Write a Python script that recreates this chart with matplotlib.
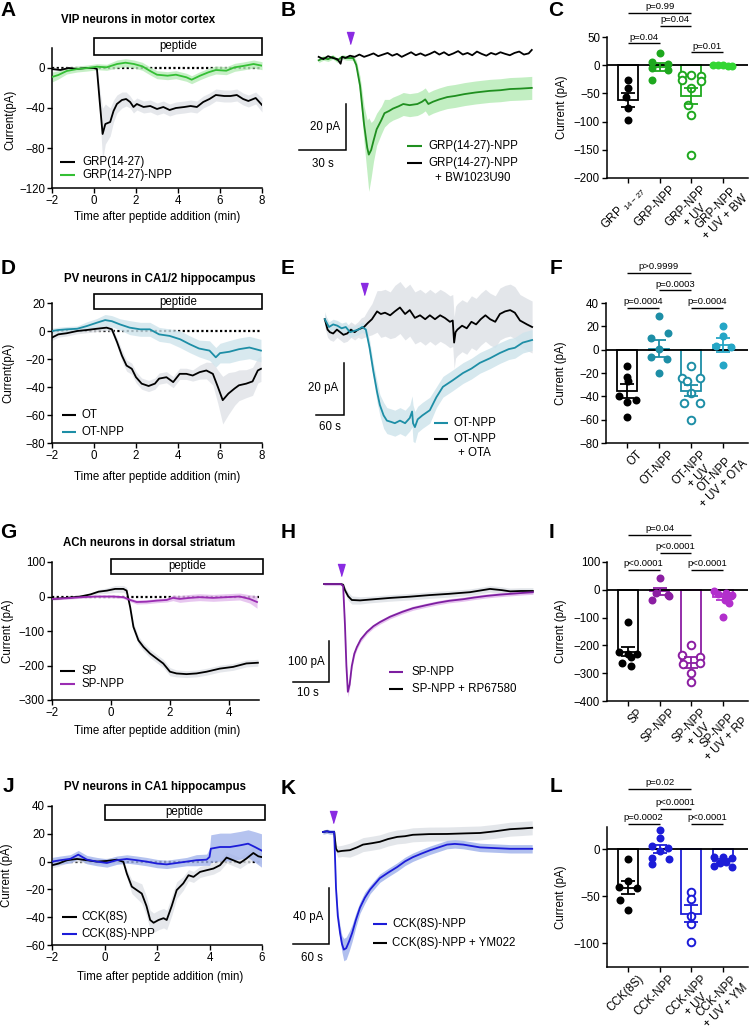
import numpy as np
import matplotlib
matplotlib.use('Agg')
import matplotlib.pyplot as plt
from matplotlib.patches import Rectangle
from matplotlib.lines import Line2D

# ======================= DATA =======================
# Panel A  (time min, current pA, sem)
A_GRP = [(-2.0,-1,1.5),(-1.6,-2,1.5),(-1.2,0,1.5),(-0.8,-1,1.5),(-0.4,0,1.5),(0.0,0,1.5),
         (0.14,-1,3),(0.27,-33,12),(0.41,-66,26),(0.54,-56,20),(0.77,-54,14),(0.93,-43,11),
         (1.09,-36,9),(1.33,-32,8),(1.53,-31,7),(1.72,-34,6),(1.88,-39,6),(2.04,-36,6),
         (2.36,-39,6),(2.68,-38,6),(3.0,-41,6),(3.3,-39,6),(3.6,-42,6),(3.9,-40,6),
         (4.3,-39,6),(4.6,-38,6),(4.9,-39,6),(5.2,-34,6),(5.5,-31,6),(5.8,-27,6),
         (6.2,-28,6),(6.5,-28,6),(6.8,-27,6),(7.1,-31,6),(7.35,-33,6),(7.7,-30,6),(8.0,-37,7)]
A_NPP = [(-2.0,-9,5),(-1.7,-7,4),(-1.3,-3,3),(-0.8,-1,3),(-0.3,0,3),(0.14,1.3,3),(0.6,0.7,3),
         (1.1,4,4),(1.5,5.3,4),(1.9,4,4),(2.3,1.7,4),(2.7,-3.3,4),(3.0,-6.7,4),(3.5,-7.7,4),
         (3.9,-6.7,4),(4.4,-9.3,4),(4.65,-11.7,4),(5.05,-7.7,4),(5.45,-4.3,4),(5.8,-2,4),
         (6.3,-2.7,4),(6.7,0.7,4),(7.1,2,4),(7.6,4,4),(8.0,2.3,4)]

# Panel B  (time s, current pA, sem)
B_NPP = [(-20,-1,1),(-17,0,1),(-14,-0.5,1),(-11,0.5,1),(-8,-1,1),(-5,0.5,1),(-2,0,1),(0,0,1),
         (2,0,1),(4,-3,2),(6.4,-12,4),(9,-29,8),(11,-39,12),(12,-42,16),(13.5,-40,12),
         (15,-36,9),(17,-31,7),(20,-27,6),(22,-24,6),(25,-23,5),(27.4,-22,5),(31,-21,5),
         (34,-20,5),(38,-20.5,5),(43,-20,5),(46,-19,5),(48,-18,5),(50,-20,5),(53,-19,5),
         (57,-18,5),(62,-17,5),(67,-16.5,5),(73,-15.7,5),(80,-15,5),(89,-14.3,5),(96,-14,5),
         (102,-13.5,5),(109,-13.3,5),(116,-13,5)]
B_BW = [(-20,0.5),(-17,-0.5),(-14,0.8),(-11,0),(-8,-0.5),(-6,-2.5),(-5,0.5),(-3,0),(0,1),
        (3,0.5),(6,1.5),(9,0.5),(12,1.2),(15,2),(18,0.8),(21,1.5),(24,2.2),(27,1),(30,1.8),
        (33,0.5),(36,1.5),(39,2.5),(42,1.2),(45,2),(48,1),(51,1.8),(54,2.8),(57,1.5),(60,2.5),
        (63,1.2),(66,2),(69,3),(72,1.5),(75,2.2),(78,1.2),(81,2.8),(84,1.8),(87,1),(90,2.2),
        (93,1.5),(96,2.5),(99,1.8),(102,1.2),(105,2.2),(108,2.8),(111,1.5),(114,2),(116,3.5)]

# Panel C
C_LABELS = ['GRP $_{\\mathregular{14-27}}$', 'GRP-NPP', 'GRP-NPP\n+ UV', 'GRP-NPP\n+ UV + BW']
C_MEANS = [-62, -3, -55, -1]
C_SEMS = [12, 7, 14, 1]
C_POINTS = [[-27, -41, -56, -76, -97], [21, 6, 2, -5, -8, -26],
            [-18, -18, -20, -26, -28, -40, -70, -88, -159], [0, 0, 0, -1, -1]]
C_SIGS = [(0, 1, 39, 'p=0.04'), (2, 3, 23, 'p=0.01'), (1, 2, 70, 'p=0.04'), (0, 2, 93, 'p=0.99')]

# Panel D
D_OT = [(-2.0,-4.7,2),(-1.7,-2.4,2),(-1.3,-1.6,2),(-0.8,0,2),(-0.35,0.7,2),(0.13,1.6,2),
        (0.6,2.4,2),(0.85,1.2,2),(1.1,-8,3),(1.33,-17.6,4),(1.55,-24.7,4),(1.8,-27,4),
        (2.0,-33,4),(2.27,-37.6,4),(2.6,-39.3,4),(2.9,-37.6,4),(3.1,-34,4),(3.45,-33,4),
        (3.77,-36.5,4),(4.08,-30.6,4),(4.4,-30.6,4),(4.7,-31.8,4),(5.03,-29.4,5),(5.35,-28.2,6),
        (5.66,-30.6,8),(5.9,-40,12),(6.13,-49.4,17),(6.4,-44.7,15),(6.7,-41,12),(6.9,-38.8,11),
        (7.25,-37.6,10),(7.55,-36,10),(7.8,-28.2,9),(7.95,-27,9)]
D_NPP = [(-2.0,0,2),(-1.7,0.7,2),(-1.3,1.2,2),(-0.8,1.6,2),(-0.35,3.5,3),(0.13,5.9,3),
         (0.53,7.8,4),(0.85,7,4),(1.24,4.7,4),(1.7,2.4,5),(2.2,1.2,5),(2.66,1.2,5),
         (3.1,-2.4,5),(3.6,-3.5,5),(4.1,-5.9,6),(4.55,-9.4,6),(5.0,-12.5,6),(5.5,-14,7),
         (5.8,-18.8,7),(6.0,-15.8,7),(6.45,-14.8,8),(6.9,-13,8),(7.4,-11.8,8),(7.7,-13,8),(7.95,-14,8)]

# Panel E  (time s, current pA, sem)
E_NPP = [(-84,3,2),(-75,0,2),(-66,1,2),(-57,0.5,2),(-48,-0.5,2),(-39,0,2),(-30,-2,2),
         (-21,-1.5,2),(-12,-1,2),(-4,0,2),(4,-1,2),(12,-8,3),(20,-17,3),(28,-25,4),(34,-30,4),
         (42,-34,5),(49,-36,5),(58,-36.5,5),(66,-37,5),(77,-36,5),(88,-37,5),(98,-35,5),
         (103,-32.5,6),(105,-37,7),(109,-38.5,6),(115,-35.5,5),(125,-34,5),(141,-32,5),
         (155,-27,4),(169,-23,4),(190,-20.5,4),(212,-17.7,4),(230,-16,4),(248,-13.8,4),
         (270,-12,4),(291,-10,4),(310,-8.5,4),(323,-8,4),(340,-6,4),(360,-5,4)]
E_OTA = [(-84,3,3),(-78,-1,3),(-73,-2,3),(-66,-2.5,3),(-58,-1,3),(-51,-2,3),(-44,-3,3),
         (-36,-2.5,3),(-28,-1,3),(-20,-2,3),(-13,-1,3),(-6,-0.5,4),(0,0,4),(8,1.5,5),(17,3,6),
         (28,6,8),(36,5,9),(45,5.5,9),(56,4.5,9),(66,6,10),(77,7.5,10),(88,5,10),(98,6.5,10),
         (109,3.5,10),(120,4.5,10),(131,3,10),(141,4.5,10),(152,3,10),(163,4.5,10),(173,3.5,10),
         (184,2,10),(190,2.5,10),(193,-6,10),(196,-2,10),(200,-1,10),(210,0.5,10),(220,-0.5,10),
         (230,2,10),(240,1,10),(250,3,10),(260,4.5,10),(270,3,10),(281,2,10),(291,5,10),
         (302,6,10),(313,6.5,10),(323,5.5,10),(334,2.5,10),(349,1,10),(360,0,10)]

# Panel F
F_LABELS = ['OT', 'OT-NPP', 'OT-NPP\n+ UV', 'OT-NPP\n+ UV + OTA']
F_MEANS = [-35, 1, -35, 4]
F_SEMS = [6, 7, 5, 6]
F_POINTS = [[-14, -23, -27, -40, -43, -45, -58], [29, 14, 10, 1, -6, -8, -20],
            [-14, -24, -24, -27, -37, -46, -46, -60], [20, 12, 3, 2, -13]]
F_SIGS = [(0, 1, 36, 'p=0.0004'), (2, 3, 36, 'p=0.0004'), (1, 2, 51, 'p=0.0003'), (0, 2, 66, 'p>0.9999')]

# Panel G  (time min, current pA, sem)
G_SP = [(-2,-7,3),(-1.5,-4,3),(-1.04,0,3),(-0.7,6,4),(-0.42,14,6),(-0.14,17,8),(0.14,22,10),
        (0.42,22,10),(0.53,17,10),(0.65,-31,10),(0.76,-88,12),(0.93,-127,12),(1.1,-146,12),
        (1.32,-165,12),(1.55,-180,12),(1.77,-194,12),(2.0,-218,12),(2.22,-223,10),(2.56,-225,10),
        (2.9,-223,10),(3.24,-218,10),(3.69,-209,10),(4.14,-204,10),(4.59,-194,10),(4.98,-192,10)]
G_NPP = [(-2,-7,3),(-1.5,-5,3),(-1.0,-2,3),(-0.5,0,3),(0.08,0,4),(0.42,-2,4),(0.65,-10,5),
         (0.87,-16,6),(1.2,-15,6),(1.55,-12,6),(1.89,-10,6),(2.1,-4,8),(2.33,-7,10),(2.67,-4,10),
         (3.0,-2,10),(3.46,-4,10),(3.9,-2,10),(4.36,0,10),(4.7,-7,12),(4.95,-16,18)]

# Panel H  (time s, current pA, sem)
H_NPP = [(-4.7,0,3),(-3,0,3),(-1.5,0,3),(0,0,3),(0.6,-5,4),(1.1,-100,8),(1.5,-200,10),
         (1.9,-263,12),(2.4,-245,10),(3.0,-200,8),(3.7,-170,7),(4.4,-154,6),(5.5,-135,6),
         (7.2,-117,5),(9,-103,5),(10.8,-93,5),(13.6,-80,5),(17,-68,5),(20,-59,5),(23.5,-52,5),
         (26.7,-46,5),(30,-41,5),(34,-37,5),(37,-33,5),(40.5,-29,5),(44,-26,5),(47,-24,5),
         (50,-22,5),(53.3,-20,5)]
H_RP = [(-4.7,0,4),(-2,0,4),(0,0,4),(0.6,-2,5),(1.1,-15,8),(2,-30,10),(3,-39,10),(5.3,-40,9),
        (8,-38,8),(13.6,-34,8),(19,-31,8),(24.7,-27,8),(30,-24,8),(35.8,-20,8),(41.4,-12,8),
        (44.7,-15,8),(47,-18,8),(50,-17,8),(53.3,-17,8)]

# Panel I
I_LABELS = ['SP', 'SP-NPP', 'SP-NPP\n+ UV', 'SP-NPP\n+ UV + RP']
I_MEANS = [-222, -5, -262, -25]
I_SEMS = [17, 12, 20, 11]
I_POINTS = [[-116, -225, -230, -232, -240, -265, -275], [43, -12, -20, -22, -36],
            [-197, -236, -240, -262, -268, -300, -330], [-3, -12, -15, -17, -24, -36, -48, -98]]
I_SIGS = [(0, 1, 72, 'p<0.0001'), (2, 3, 72, 'p<0.0001'), (1, 2, 133, 'p<0.0001'), (0, 2, 198, 'p=0.04')]

# Panel J  (time min, current pA, sem)
J_CCK = [(-2,-2.6,2),(-1.75,-1.4,2),(-1.43,1,2),(-1.05,1.9,2),(-0.67,1,2),(-0.29,0,2),(0.09,0.5,2),
         (0.47,1.4,2),(0.72,-0.2,2),(0.85,-8.6,3),(1.04,-18,5),(1.23,-20.5,6),(1.42,-23,7),
         (1.6,-32,7),(1.74,-42,7),(1.87,-44,7),(2.06,-42,7),(2.25,-40.7,7),(2.37,-42,7),
         (2.56,-32,7),(2.75,-20.5,6),(3.0,-15.7,5),(3.2,-9.8,4),(3.39,-11,4),(3.64,-7.4,4),
         (3.89,-6.2,4),(4.15,-5,4),(4.4,-2.6,4),(4.65,2.9,4),(4.9,1,4),(5.16,-1,4),(5.4,2.1,4),
         (5.67,6.2,5),(5.86,3.8,5),(5.98,3.3,5)]
J_NPP = [(-2,0,3),(-1.68,1,3),(-1.3,2,3),(-1.0,5,3),(-0.67,1.4,3),(-0.29,0,3),(0.09,-1,3),
         (0.47,1,3),(0.85,1.9,3),(1.23,1,3),(1.6,0,3),(2.0,-1.4,3),(2.37,-2,3),(2.75,-1,3),
         (3.13,0,3),(3.5,1,4),(3.89,1.4,4),(4.0,3.3,6),(4.05,9.3,10),(4.4,10.5,10),(4.78,10.5,10),
         (5.16,11.7,10),(5.47,12.9,10),(5.73,10.5,11),(5.98,8,12)]

# Panel K  (time s, current pA, sem)
K_NPP = [(-16.7,0,1.5),(-10,0.5,1.5),(-5,0,1.5),(0,0,1.5),(2,0,1.5),(5,-40,3),(8,-60,4),
         (11.7,-72,5),(15,-80,6),(18,-84,8),(22,-83,8),(27,-78,7),(32,-72,6),(38,-63,5),
         (45,-54,4),(53,-47,4),(62,-41,3),(70,-37,3),(78,-33,3),(92,-29,3),(107,-25,3),
         (120,-21,3),(133,-18,3),(147,-15.5,3),(162,-13,3),(176,-11,3),(190,-9,3),(203,-8.5,3),
         (217,-9,3),(231,-10,3),(245,-11,3),(270,-11.5,3),(295,-12,3),(315,-12,3),(332,-12,3)]
K_YM = [(-16.7,0,1.5),(-10,0.5,1.5),(-5,0,1.5),(0,0,1.5),(2,0,2),(5,-12,3),(8,-14,4),
        (15,-13.5,4),(28,-13,5),(40,-11,5),(50,-9,5),(65,-8,5),(78,-7,5),(92,-5,5),(107,-3.5,5),
        (120,-3,5),(133,-2,5),(160,-1.5,5),(190,-1.4,5),(220,-1,5),(245,-0.7,5),(270,0.5,5),
        (295,2,5),(315,2.5,5),(332,3,5)]

# Panel L
L_LABELS = ['CCK(8S)', 'CCK-NPP', 'CCK-NPP\n+ UV', 'CCK-NPP\n+ UV + YM']
L_MEANS = [-41, 0, -69, -13]
L_SEMS = [7, 4, 9, 2]
L_POINTS = [[-11, -34, -40, -41, -54, -65], [20, 12, 3, 1, -2, -10, -11, -16],
            [-46, -53, -71, -80, -99], [-8, -9, -10, -14, -15, -18, -19]]
L_SIGS = [(0, 1, 27, 'p=0.0002'), (2, 3, 27, 'p<0.0001'), (1, 2, 43, 'p<0.0001'), (0, 2, 64, 'p=0.02')]

# ======================= STYLE / LAYOUT =======================
plt.rcParams['font.family'] = ['Liberation Sans', 'DejaVu Sans']
plt.rcParams['mathtext.fontset'] = 'custom'
plt.rcParams['mathtext.rm'] = 'Liberation Sans'
plt.rcParams['font.size'] = 8.3
plt.rcParams['axes.linewidth'] = 1.1
for a in ('xtick', 'ytick'):
    plt.rcParams[a + '.major.width'] = 1.0
    plt.rcParams[a + '.major.size'] = 3.5
    plt.rcParams[a + '.major.pad'] = 1.5
    plt.rcParams[a + '.labelsize'] = 8.3

GREEN_A = '#34bf34'; GREEN_B = '#1f8f1f'; GREEN_BAND = '#b8ecb8'
GREEN_C = '#1ea81e'; GREEN_BW = '#33d633'
TEAL = '#1d8ea6'; TEAL_BAND = '#cfe4ec'; TEAL_OTA = '#25a6c6'
PURPLE = '#9a2db2'; PURPLE_H = '#7d1ea0'; PURPLE_BAND = '#e2b8ec'; PURPLE_I = '#8b1ea2'; PURPLE_RP = '#b22fcc'
BLUE = '#1c1cd8'; BLUE_BAND = '#a3b4ec'
GREY_BAND = '#dfe2e7'
ARROW = '#8a2be2'

W, H = 750, 1034
fig = plt.figure(figsize=(7.5, 10.34), dpi=100)
renderer = fig.canvas.get_renderer()


def px_axes(l, t, r, b):
    return fig.add_axes([l / W, 1 - b / H, (r - l) / W, (b - t) / H])


def ftext(x, y, s, **kw):
    kw.setdefault('va', 'center')
    return fig.text(x / W, 1 - y / H, s, **kw)


def fline(x0, x1, y, color, lw=1.5):
    fig.add_artist(Line2D([x0 / W, x1 / W], [1 - y / H, 1 - y / H], color=color, lw=lw,
                          solid_capstyle='butt'))


def legend_two_line(x, y, line1, line2, dy=15):
    t1 = ftext(x, y, line1, ha='left')
    bb = t1.get_window_extent(renderer)
    cx = (bb.x0 + bb.x1) / 2
    fig.text(cx / W, 1 - (y + dy) / H, line2, ha='center', va='center')


def time_panel(box, xlim, ylim, xticks, yticks, series, pep_x, pep_y):
    ax = px_axes(*box)
    ax.set_xlim(xlim)
    ax.set_ylim(ylim)
    for s in ('top', 'right'):
        ax.spines[s].set_visible(False)
    ax.set_xticks(xticks)
    ax.set_yticks(yticks)
    ax.plot(xlim, [0, 0], color='black', ls=(0, (1, 1.1)), lw=1.6, zorder=1)
    for data, lc, bc in series:
        arr = np.array(data, dtype=float)
        ax.fill_between(arr[:, 0], arr[:, 1] - arr[:, 2], arr[:, 1] + arr[:, 2],
                        color=bc, lw=0, alpha=0.8, zorder=2)
    for data, lc, bc in series:
        arr = np.array(data, dtype=float)
        ax.plot(arr[:, 0], arr[:, 1], color=lc, lw=1.3, zorder=3)
    ax.add_patch(Rectangle((pep_x[0], pep_y[0]), pep_x[1] - pep_x[0], pep_y[1] - pep_y[0],
                           facecolor='white', edgecolor='black', lw=1.2, clip_on=False, zorder=6))
    ax.text((pep_x[0] + pep_x[1]) / 2, (pep_y[0] + pep_y[1]) / 2, 'peptide', ha='center',
            va='center', zorder=7, clip_on=False)
    return ax


def trace_panel(box, x0px, pxs, y0px, pxpa):
    l, t, r, b = box
    ax = px_axes(l, t, r, b)
    ax.set_xlim((l - x0px) / pxs, (r - x0px) / pxs)
    ax.set_ylim((y0px - b) / pxpa, (y0px - t) / pxpa)
    ax.axis('off')
    return ax


def draw_traces(ax, series, arrow_v):
    for data, lc, bc in series:
        arr = np.array(data, dtype=float)
        if arr.shape[1] > 2 and bc is not None:
            ax.fill_between(arr[:, 0], arr[:, 1] - arr[:, 2], arr[:, 1] + arr[:, 2],
                            color=bc, lw=0, alpha=0.85, zorder=2)
    for data, lc, bc in series:
        arr = np.array(data, dtype=float)
        ax.plot(arr[:, 0], arr[:, 1], color=lc, lw=1.3, zorder=3)
    ax.plot([0], [arrow_v], marker=[(-3, 5), (3, 5), (0, -5)], ms=8.6, color=ARROW,
            mec=ARROW, clip_on=False, zorder=5)


def scale_bar(ax, tc, vc, dv, dt):
    ax.plot([tc - dt, tc, tc], [vc, vc, vc + dv], color='black', lw=1.1,
            solid_joinstyle='miter', clip_on=False)


def bar_panel(box, ylim, yticks, labels, colors, filled, means, sems, points, jit, sigs):
    ax = px_axes(*box)
    ax.set_xlim(-0.66, 3.79)
    ax.set_ylim(ylim)
    for s in ('top', 'right'):
        ax.spines[s].set_visible(False)
    ax.set_yticks(yticks)
    ax.set_xticks(range(4))
    ax.set_xticklabels([])
    for i in range(4):
        ax.bar(i, means[i], width=0.62, color='white', edgecolor=colors[i], lw=1.3, zorder=2)
    ax.axhline(0, color='black', lw=1.3, zorder=3)
    for i in range(4):
        xs = i + np.array(jit[i])
        if filled[i]:
            ax.scatter(xs, points[i], s=33, color=colors[i], lw=0, zorder=4, clip_on=False)
        else:
            ax.scatter(xs, points[i], s=30, facecolor='white', edgecolor=colors[i], lw=1.4,
                       zorder=4, clip_on=False)
        ax.errorbar(i, means[i], yerr=sems[i], color=colors[i], capsize=5, capthick=1.3,
                    elinewidth=1.3, zorder=5)
    for i, lab in enumerate(labels):
        ax.annotate(lab, xy=(i + 0.3, 0), xycoords=('data', 'axes fraction'),
                    xytext=(0, -4), textcoords='offset points', rotation=45, ha='right',
                    va='top', rotation_mode='anchor', multialignment='center',
                    linespacing=1.1)
    for a, b, y, txt in sigs:
        ax.plot([a, b], [y, y], color='black', lw=1.0, clip_on=False, solid_capstyle='butt')
        ax.annotate(txt, xy=((a + b) / 2, y), xytext=(0, 1.2), textcoords='offset points',
                    ha='center', va='bottom', fontsize=6.8, annotation_clip=False)
    return ax


# ---------- Panel A ----------
time_panel((52, 48, 262, 188), (-2, 8), (-120, 20), [-2, 0, 2, 4, 6, 8], [0, -40, -80, -120],
           [(A_GRP, 'black', GREY_BAND), (A_NPP, GREEN_A, GREEN_BAND)], (0, 8), (13, 30))
ftext(138, 20, 'VIP neurons in motor cortex', ha='center', fontweight='bold', fontsize=8.3)
ftext(10, 120, 'Current(pA)', ha='center', rotation=90)
ftext(157, 217, 'Time after peptide addition (min)', ha='center')
fline(60, 75, 162, 'black'); ftext(82, 162, 'GRP(14-27)')
fline(60, 75, 175, GREEN_A); ftext(82, 175, 'GRP(14-27)-NPP')

# ---------- Panel B ----------
axB = trace_panel((290, 30, 545, 200), 350, 1.567, 58, 2.3)
draw_traces(axB, [(B_NPP, GREEN_B, GREEN_BAND), (B_BW, 'black', None)], (58 - 38) / 2.3)
scale_bar(axB, -2.55, -40, 20, 30)
ftext(340, 127, '20 pA', ha='right')
ftext(323, 164, '30 s', ha='center')
fline(407, 422, 146, GREEN_B); ftext(428, 146, 'GRP(14-27)-NPP')
fline(407, 422, 163, 'black'); legend_two_line(428, 163, 'GRP(14-27)-NPP', '+ BW1023U90')

# ---------- Panel C ----------
bar_panel((607, 37, 748, 178), (-200, 50), [50, 0, -50, -100, -150, -200], C_LABELS,
          ['black', GREEN_C, GREEN_C, GREEN_BW], [True, True, False, True], C_MEANS, C_SEMS,
          C_POINTS,
          [[0, 0, -0.05, 0, 0], [0, -0.25, 0.25, -0.25, 0.25, -0.25],
           [-0.28, 0, 0.3, -0.28, 0.3, 0, -0.1, 0, 0], [-0.3, -0.15, 0, 0.15, 0.3]], C_SIGS)
ftext(562, 107, 'Current (pA)', ha='center', rotation=90)

# ---------- Panel D ----------
time_panel((52, 303, 262, 443), (-2, 8), (-80, 20), [-2, 0, 2, 4, 6, 8], [20, 0, -20, -40, -60, -80],
           [(D_OT, 'black', GREY_BAND), (D_NPP, TEAL, TEAL_BAND)], (0, 8), (15.5, 26.5))
ftext(160, 279, 'PV neurons in CA1/2 hippocampus', ha='center', fontweight='bold', fontsize=8.3)
ftext(8, 373, 'Current(pA)', ha='center', rotation=90)
ftext(157, 477, 'Time after peptide addition (min)', ha='center')
fline(62, 76, 415, 'black'); ftext(81, 415, 'OT')
fline(62, 76, 432, TEAL); ftext(81, 432, 'OT-NPP')

# ---------- Panel E ----------
axE = trace_panel((300, 280, 545, 470), 364, 0.467, 327, 2.6)
draw_traces(axE, [(E_OTA, 'black', GREY_BAND), (E_NPP, TEAL, TEAL_BAND)], (327 - 289) / 2.6)
scale_bar(axE, -42.8, -33.8, 20, 60)
ftext(338, 388, '20 pA', ha='right')
ftext(330, 427, '60 s', ha='center')
fline(434, 448, 423, TEAL); ftext(453, 423, 'OT-NPP')
fline(434, 448, 439, 'black'); legend_two_line(453, 439, 'OT-NPP', '+ OTA', dy=14)

# ---------- Panel F ----------
bar_panel((606, 303, 748, 443), (-80, 40), [40, 20, 0, -20, -40, -60, -80], F_LABELS,
          ['black', TEAL, TEAL, TEAL_OTA], [True, True, False, True], F_MEANS, F_SEMS, F_POINTS,
          [[0, 0, 0.02, -0.25, 0.28, 0, 0], [0, 0.28, -0.25, 0, -0.25, 0.25, 0],
           [0, -0.28, 0.28, -0.12, 0, -0.2, 0.28, 0], [0, 0, -0.2, 0.25, 0]], F_SIGS)
ftext(561, 373, 'Current (pA)', ha='center', rotation=90)

# ---------- Panel G ----------
time_panel((52, 562, 258.5, 700), (-2, 5), (-300, 100), [-2, 0, 2, 4], [100, 0, -100, -200, -300],
           [(G_SP, 'black', GREY_BAND), (G_NPP, PURPLE, PURPLE_BAND)], (0, 5.15), (64, 110))
ftext(149, 543, 'ACh neurons in dorsal striatum', ha='center', fontweight='bold', fontsize=8.3)
ftext(8, 631, 'Current (pA)', ha='center', rotation=90)
ftext(157, 731, 'Time after peptide addition (min)', ha='center')
fline(60, 75, 671, 'black'); ftext(82, 671, 'SP')
fline(60, 75, 684, PURPLE); ftext(82, 684, 'SP-NPP')

# ---------- Panel H ----------
axH = trace_panel((285, 560, 545, 700), 341, 3.6, 584, 0.41)
draw_traces(axH, [(H_RP, 'black', GREY_BAND), (H_NPP, PURPLE_H, PURPLE_BAND)], (584 - 570) / 0.41)
scale_bar(axH, -3.33, -239, 100, 10)
ftext(325, 662, '100 pA', ha='right')
ftext(308, 693, '10 s', ha='center')
fline(389, 403, 672, PURPLE_H); ftext(412, 672, 'SP-NPP')
fline(389, 403, 689, 'black'); ftext(412, 689, 'SP-NPP + RP67580')

# ---------- Panel I ----------
bar_panel((607, 562, 748, 701), (-400, 100), [100, 0, -100, -200, -300, -400], I_LABELS,
          ['black', PURPLE_I, PURPLE_I, PURPLE_RP], [True, True, False, True], I_MEANS, I_SEMS,
          I_POINTS,
          [[0, -0.28, 0, 0.3, 0.1, -0.2, 0.1], [0, -0.1, 0.25, 0.3, -0.25],
           [0, -0.28, 0.28, 0.28, -0.25, 0, 0], [-0.28, 0.1, -0.15, 0.3, 0.25, 0.05, 0.2, 0]], I_SIGS)
ftext(561, 631, 'Current (pA)', ha='center', rotation=90)

# ---------- Panel J ----------
time_panel((52, 806, 262, 945), (-2, 6), (-60, 40), [-2, 0, 2, 4, 6], [40, 20, 0, -20, -40, -60],
           [(J_CCK, 'black', GREY_BAND), (J_NPP, BLUE, BLUE_BAND)], (0, 6.1), (30, 41))
ftext(155, 787, 'PV neurons in CA1 hippocampus', ha='center', fontweight='bold', fontsize=8.3)
ftext(7, 875, 'Current (pA)', ha='center', rotation=90)
ftext(160, 977, 'Time after peptide addition (min)', ha='center')
fline(62, 77, 917, 'black'); ftext(81, 917, 'CCK(8S)')
fline(62, 77, 934, BLUE); ftext(81, 934, 'CCK(8S)-NPP')

# ---------- Panel K ----------
axK = trace_panel((285, 805, 545, 965), 333, 0.6, 832, 1.4)
draw_traces(axK, [(K_YM, 'black', GREY_BAND), (K_NPP, BLUE, BLUE_BAND)], (832 - 817) / 1.4)
scale_bar(axK, -6.7, -80, 40, 60)
ftext(323, 917, '40 pA', ha='right')
ftext(312, 958, '60 s', ha='center')
fline(373, 387, 924, BLUE); ftext(392, 924, 'CCK(8S)-NPP')
fline(373, 387, 943, 'black'); ftext(392, 943, 'CCK(8S)-NPP + YM022')

# ---------- Panel L ----------
bar_panel((607, 827, 748, 967), (-125.5, 23.4), [0, -50, -100], L_LABELS,
          ['black', BLUE, BLUE, BLUE], [True, True, False, True], L_MEANS, L_SEMS, L_POINTS,
          [[0, 0, -0.28, 0.3, -0.25, 0], [0, 0, -0.25, 0.28, 0, -0.25, 0.3, -0.25],
           [0, 0, 0, 0, 0], [-0.28, 0, 0.3, 0.1, -0.1, -0.28, 0.3]], L_SIGS)
ftext(561, 897, 'Current (pA)', ha='center', rotation=90)

# ---------- panel letters ----------
for letter, x, y in [('A', 8, 10), ('B', 288, 10), ('C', 556, 11), ('D', 8, 269), ('E', 288, 269),
                     ('F', 556, 269), ('G', 8, 532), ('H', 288, 532), ('I', 552, 532),
                     ('J', 8, 787), ('K', 288, 789), ('L', 556, 787)]:
    ftext(x, y, letter, ha='center', fontweight='bold', fontsize=15)

fig.savefig('out.png', dpi=100)
